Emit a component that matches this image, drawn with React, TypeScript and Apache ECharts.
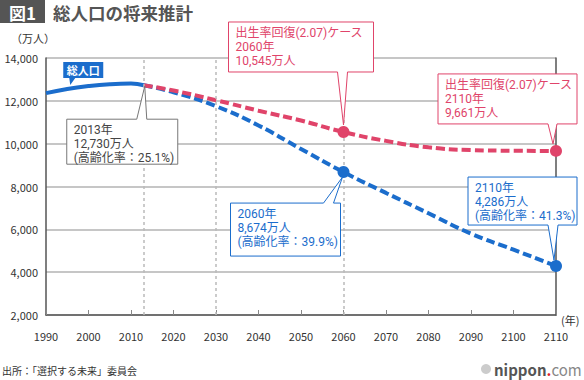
import React, { useEffect, useRef } from "react";
import * as echarts from "echarts";

const actualYears = [1990, 1995, 2000, 2005, 2010, 2013];
const actualPop = [12361, 12557, 12693, 12777, 12806, 12730];
const projYears = [2013, 2020, 2030, 2040, 2050, 2060, 2070, 2080, 2090, 2100, 2110];
const projMedium = [12730, 12400, 11750, 10850, 9750, 8674, 7700, 6750, 5800, 5050, 4286];
const projRecovery = [12730, 12480, 12030, 11540, 11080, 10545, 10130, 9830, 9700, 9670, 9661];
const markerYears = [2060, 2110];
const guideYears = [2013, 2030, 2060];

const BLUE = "#1b6dcc";
const PINK = "#e0446a";
const FONT = "Noto Sans CJK JP";
const NOTE_FONT = "Roboto, Noto Sans CJK JP";

export default function App() {
  const ref = useRef<HTMLDivElement>(null);
  useEffect(() => {
    const chart = echarts.init(ref.current!, null, { renderer: "svg" });
    const pair = (ys: number[], vs: number[]) => ys.map((y, i) => [y, vs[i]]);
    const markers = (vs: number[]) => markerYears.map((y) => [y, vs[projYears.indexOf(y)]]);
    chart.setOption({
      animation: false,
      textStyle: { fontFamily: FONT },
      grid: { left: 46, right: 28, top: 58, bottom: 65 },
      xAxis: {
        type: "value",
        min: 1990,
        max: 2110,
        interval: 10,
        axisLine: { lineStyle: { color: "#555", width: 1.5 } },
        axisTick: { show: true, inside: true, length: 5, lineStyle: { color: "#888" } },
        axisLabel: { color: "#333", fontSize: 11, fontFamily: FONT, margin: 15, formatter: (v: number) => String(v) },
        splitLine: { show: false },
      },
      yAxis: [
        {
          type: "value",
          min: 2000,
          max: 14000,
          interval: 2000,
          axisLine: { show: true, lineStyle: { color: "#555", width: 1.5 } },
          axisTick: { show: false },
          axisLabel: { color: "#333", fontSize: 11, fontFamily: FONT, margin: 8, formatter: (v: number) => v.toLocaleString("en-US") },
          splitLine: { lineStyle: { color: "#b3b3b3", width: 1.5 } },
        },
        {
          type: "value",
          position: "right",
          min: 2000,
          max: 14000,
          interval: 2000,
          axisLine: { show: true, lineStyle: { color: "#555", width: 1.5 } },
          axisTick: { show: false },
          axisLabel: { show: false },
          splitLine: { show: false },
        },
      ],
      series: [
        {
          type: "line",
          data: [],
          z: 1,
          markLine: {
            silent: true,
            symbol: "none",
            label: { show: false },
            lineStyle: { color: "#bbb", type: [3, 3], width: 1.5 },
            data: guideYears.map((y) => ({ xAxis: y })),
          },
        },
        {
          type: "line",
          data: pair(actualYears, actualPop),
          smooth: true,
          symbol: "none",
          lineStyle: { color: BLUE, width: 4 },
          z: 3,
        },
        {
          type: "line",
          data: pair(projYears, projMedium),
          smooth: true,
          symbol: "none",
          lineStyle: { color: BLUE, width: 4, type: [9, 4] },
          z: 3,
        },
        {
          type: "line",
          data: pair(projYears, projRecovery),
          smooth: true,
          symbol: "none",
          lineStyle: { color: PINK, width: 4, type: [9, 4] },
          z: 4,
        },
        {
          type: "scatter",
          data: markers(projMedium),
          symbolSize: 12,
          itemStyle: { color: BLUE, opacity: 1 },
          z: 5,
        },
        {
          type: "scatter",
          data: markers(projRecovery),
          symbolSize: 12,
          itemStyle: { color: PINK, opacity: 1 },
          z: 5,
        },
      ],
    });

    const px = (x: number, y: number) => chart.convertToPixel({ gridIndex: 0 }, [x, y]) as number[];
    const valAt = (ys: number[], vs: number[], y: number) => vs[ys.indexOf(y)];

    type Callout = {
      p: number[];
      box: [number, number, number, number];
      tail: [number, number, number, number];
      side: "top" | "bottom";
      stroke: string;
      color: string;
      lines: string[];
    };

    const callout = (c: Callout) => {
      const [l, t, r, b] = c.box;
      const L = c.p[0] + l, T = c.p[1] + t, R = c.p[0] + r, B = c.p[1] + b;
      const bx1 = c.p[0] + c.tail[0], bx2 = c.p[0] + c.tail[1];
      const ax = c.p[0] + c.tail[2], ay = c.p[1] + c.tail[3];
      const pts =
        c.side === "top"
          ? [[L, T], [bx1, T], [ax, ay], [bx2, T], [R, T], [R, B], [L, B]]
          : [[L, T], [R, T], [R, B], [bx2, B], [ax, ay], [bx1, B], [L, B]];
      const els: any[] = [
        {
          type: "polygon",
          z: 100,
          shape: { points: pts },
          style: { fill: "#fff", stroke: c.stroke, lineWidth: 1 },
        },
      ];
      c.lines.forEach((s, i) => {
        els.push({
          type: "text",
          z: 101,
          x: L + 7,
          y: T + 11 + i * 13.8,
          style: {
            text: s,
            fill: c.color,
            fontSize: 12,
            fontFamily: NOTE_FONT,
            verticalAlign: "middle",
          },
        });
      });
      return els;
    };

    const p2013 = px(2013, valAt(actualYears, actualPop, 2013));
    const pR60 = px(2060, valAt(projYears, projRecovery, 2060));
    const pR110 = px(2110, valAt(projYears, projRecovery, 2110));
    const pM60 = px(2060, valAt(projYears, projMedium, 2060));
    const pM110 = px(2110, valAt(projYears, projMedium, 2110));
    const pLbl = px(1995, valAt(actualYears, actualPop, 1995));

    const graphic: any[] = [
      { type: "rect", shape: { x: 0, y: 0, width: 45, height: 23 }, style: { fill: "#555" } },
      {
        type: "text",
        x: 22.5,
        y: 12,
        style: { text: "図1", fill: "#fff", fontSize: 17, fontWeight: "bold", fontFamily: FONT, align: "center", verticalAlign: "middle" },
      },
      {
        type: "text",
        x: 53,
        y: 12,
        style: { text: "総人口の将来推計", fill: "#555", fontSize: 17.5, fontWeight: "bold", fontFamily: FONT, verticalAlign: "middle" },
      },
      {
        type: "text",
        x: 11,
        y: 38,
        style: { text: "（万人）", fill: "#333", fontSize: 11, fontFamily: FONT, verticalAlign: "middle" },
      },
      {
        type: "text",
        x: 561,
        y: 320,
        style: { text: "(年)", fill: "#333", fontSize: 11, fontFamily: FONT, verticalAlign: "middle" },
      },
      {
        type: "text",
        x: 2,
        y: 370,
        style: { text: "出所：「選択する未来」委員会", fill: "#333", fontSize: 10, fontFamily: FONT, verticalAlign: "middle" },
      },
      { type: "circle", shape: { cx: 486, cy: 369, r: 5 }, style: { fill: "#ccc" } },
      {
        type: "text",
        x: 494,
        y: 369,
        style: {
          text: "{a|nippon}{b|.}{c|com}",
          verticalAlign: "middle",
          rich: {
            a: { fill: "#555", fontSize: 15, fontWeight: "bold", fontFamily: FONT },
            b: { fill: "#e0202a", fontSize: 15, fontWeight: "bold", fontFamily: FONT },
            c: { fill: "#888", fontSize: 15, fontFamily: FONT },
          },
        },
      },
      {
        type: "polygon",
        z: 100,
        shape: {
          points: [
            [pLbl[0] - 4, pLbl[1] - 27],
            [pLbl[0] + 36, pLbl[1] - 27],
            [pLbl[0] + 36, pLbl[1] - 11],
            [pLbl[0] + 8, pLbl[1] - 11],
            [pLbl[0] + 3, pLbl[1] - 4],
            [pLbl[0] + 2, pLbl[1] - 11],
            [pLbl[0] - 4, pLbl[1] - 11],
          ],
        },
        style: { fill: BLUE },
      },
      {
        type: "text",
        z: 101,
        x: pLbl[0] + 16,
        y: pLbl[1] - 19,
        style: { text: "総人口", fill: "#fff", fontSize: 11, fontWeight: "bold", fontFamily: FONT, align: "center", verticalAlign: "middle" },
      },
      ...callout({
        p: p2013,
        box: [-77, 34, 34, 79],
        tail: [-7, 3, 1, 1],
        side: "top",
        stroke: "#777",
        color: "#444",
        lines: ["2013年", "12,730万人", "(高齢化率：25.1%)"],
      }),
      ...callout({
        p: pR60,
        box: [-115, -110, 30, -60],
        tail: [-6, 4, 0, -7],
        side: "bottom",
        stroke: PINK,
        color: PINK,
        lines: ["出生率回復(2.07)ケース", "2060年", "10,545万人"],
      }),
      ...callout({
        p: pR110,
        box: [-118, -77, 21, -27],
        tail: [-8, 1, -3, -7],
        side: "bottom",
        stroke: PINK,
        color: PINK,
        lines: ["出生率回復(2.07)ケース", "2110年", "9,661万人"],
      }),
      ...callout({
        p: pM60,
        box: [-113, 31, -3, 84],
        tail: [-20, -10, -1, 5],
        side: "top",
        stroke: BLUE,
        color: BLUE,
        lines: ["2060年", "8,674万人", "(高齢化率：39.9%)"],
      }),
      ...callout({
        p: pM110,
        box: [-88, -89, 21, -41],
        tail: [-8, 2, -2, -6],
        side: "bottom",
        stroke: BLUE,
        color: BLUE,
        lines: ["2110年", "4,286万人", "(高齢化率：41.3%)"],
      }),
    ];
    chart.setOption({ graphic });

    return () => chart.dispose();
  }, []);

  return (
    <div
      ref={ref}
      style={{ position: "fixed", left: 0, top: 0, width: 584, height: 380, background: "#fff" }}
    />
  );
}
